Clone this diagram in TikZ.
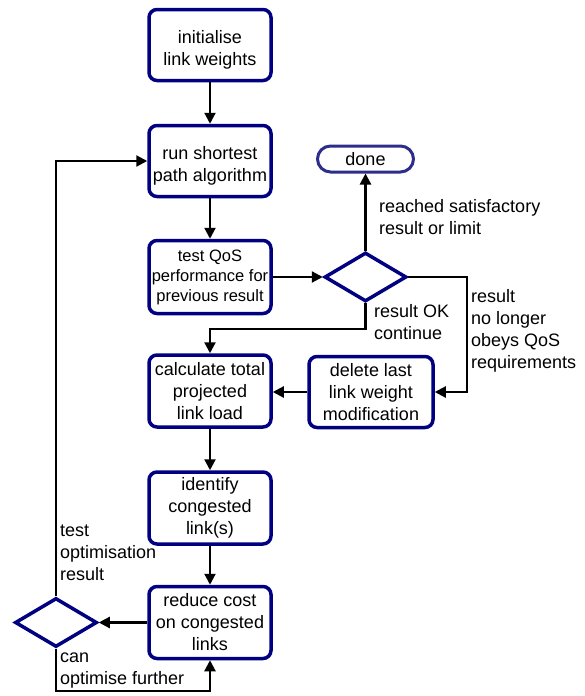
\documentclass[tikz,border=0pt]{standalone}
\usepackage{fontspec}
\setmainfont{Liberation Sans}
\usetikzlibrary{shapes.geometric,arrows.meta}
\definecolor{boxnavy}{RGB}{0,0,128}
\definecolor{donenavy}{RGB}{45,45,140}
\newcommand{\toppad}{\rule{0pt}{22pt}}
\begin{document}
\begin{tikzpicture}[x=1pt,y=-1pt,
  every node/.style={font=\fontsize{18}{22}\selectfont},
  procbox/.style={draw=boxnavy,line width=3.5pt,rounded corners=8pt,fill=white,
    minimum width=122pt,minimum height=71pt,inner sep=0pt,align=center},
  endbox/.style={draw=donenavy,line width=3pt,rounded corners=13pt,fill=white,
    minimum width=96pt,minimum height=26pt,inner sep=0pt},
  decide/.style={draw=boxnavy,line width=3.5pt,diamond,inner sep=0pt,
    minimum width=82pt,minimum height=49pt},
  arr/.style={line width=2.2pt,-{Triangle[length=11pt,width=11pt]}},
  lbl/.style={anchor=north west,inner sep=0pt,align=left}]
\useasboundingbox (0,0) rectangle (585,696);

\node[procbox] (b1) at (210,45) {\toppad initialise\\link weights};
\node[procbox] (b2) at (210,161) {\toppad run shortest\\path algorithm};
\node[procbox,minimum height=73pt,font=\fontsize{16.5}{20}\selectfont] (b3) at (210,277) {test QoS\\performance for\\previous result};
\node[procbox,minimum height=72pt] (b4) at (210,391) {calculate total\\projected\\link load};
\node[procbox,minimum width=124pt] (b5) at (371,392) {delete last\\link weight\\modification};
\node[procbox,minimum height=72pt] (b6) at (210,508) {identify\\congested\\link(s)};
\node[procbox,minimum height=72pt] (b7) at (210,622.5) {reduce cost\\on congested\\links};
\node[endbox] (done) at (365.5,159) {done};
\node[decide] (d1) at (365.5,277) {};
\node[decide] (d2) at (56,622.5) {};

\coordinate (rc) at (467,392);
\coordinate (ok) at (365.5,329);
\coordinate (bt) at (56,691);

\draw[arr] (b1.south) -- (b2.north);
\draw[arr] (b2.south) -- (b3.north);
\draw[arr] (b3.east) -- (d1.west);
\draw[arr] (d1.north) -- (done.south);
\draw[arr] (d1.east) -| (rc) -- (b5.east);
\draw[arr] (d1.south) -- (ok) -| (b4.north);
\draw[arr] (b5.west) -- (b4.east |- b5.west);
\draw[arr] (b4.south) -- (b6.north);
\draw[arr] (b6.south) -- (b7.north);
\draw[arr] (b7.west) -- (d2.east);
\draw[arr] (d2.north) |- (b2.west);
\draw[arr] (d2.south) -- (bt) -| (b7.south);

\node[lbl] (l1) at (379,196.6) {\strut reached satisfactory\\result or limit};
\node[lbl] (l2) at (374,301.6) {\strut result OK\\continue};
\node[lbl] (l3) at (471,286.6) {\strut result\\no longer\\obeys QoS\\requirements};
\node[lbl] (l4) at (60,520.6) {\strut test\\optimisation\\result};
\node[lbl] (l5) at (60,646.6) {\strut can\\optimise further};
\end{tikzpicture}
\end{document}
